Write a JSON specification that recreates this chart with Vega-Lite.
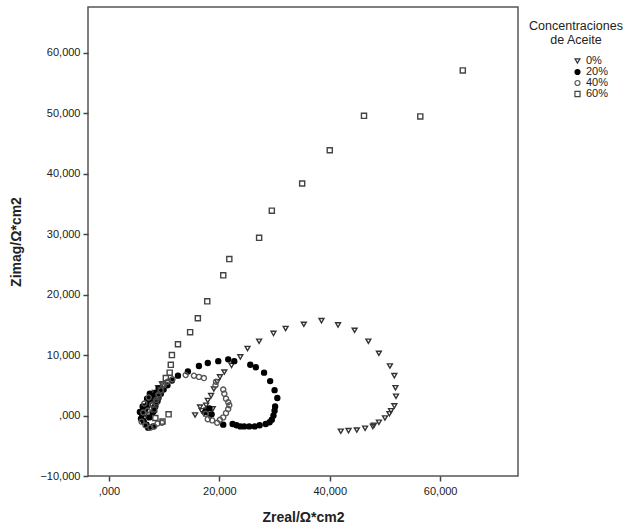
{
  "$schema": "https://vega.github.io/schema/vega-lite/v6.json",
  "autosize": {"type": "none"},
  "width": 430,
  "height": 469,
  "padding": {"left": 88, "top": 7, "right": 117, "bottom": 50},
  "background": "white",
  "config": {
    "font": "Liberation Sans",
    "view": {"stroke": "#555555", "strokeWidth": 1.5},
    "axis": {"grid": false, "domain": false, "tickColor": "#444444", "tickSize": 5, "tickWidth": 1.5, "labelFontSize": 11, "labelColor": "#222222", "titleFontSize": 14, "titleFontWeight": "bold", "titleColor": "#222222", "labelFont": "Liberation Sans", "titleFont": "Liberation Sans"}
  },
  "data": {"values": [
    {"c": "0%", "x": 15.6, "y": 0.1}, {"c": "0%", "x": 16.8, "y": 0.8}, {"c": "0%", "x": 17.6, "y": 1.7}, {"c": "0%", "x": 17.9, "y": 2.5}, {"c": "0%", "x": 18.5, "y": 3.3}, {"c": "0%", "x": 19.0, "y": 4.4}, {"c": "0%", "x": 19.6, "y": 5.6}, {"c": "0%", "x": 20.1, "y": 6.4}, {"c": "0%", "x": 20.9, "y": 7.2}, {"c": "0%", "x": 22.2, "y": 8.3}, {"c": "0%", "x": 23.8, "y": 9.7}, {"c": "0%", "x": 25.1, "y": 11.1}, {"c": "0%", "x": 27.2, "y": 12.3}, {"c": "0%", "x": 29.8, "y": 13.6}, {"c": "0%", "x": 32.0, "y": 14.4}, {"c": "0%", "x": 35.3, "y": 15.1}, {"c": "0%", "x": 38.5, "y": 15.7}, {"c": "0%", "x": 41.5, "y": 15.0}, {"c": "0%", "x": 44.5, "y": 14.1}, {"c": "0%", "x": 47.0, "y": 12.3}, {"c": "0%", "x": 48.9, "y": 10.3}, {"c": "0%", "x": 50.9, "y": 8.2}, {"c": "0%", "x": 51.7, "y": 6.6}, {"c": "0%", "x": 51.9, "y": 4.6}, {"c": "0%", "x": 52.0, "y": 3.2}, {"c": "0%", "x": 51.7, "y": 1.6}, {"c": "0%", "x": 51.1, "y": 0.8}, {"c": "0%", "x": 50.8, "y": 0.3}, {"c": "0%", "x": 50.0, "y": -0.4}, {"c": "0%", "x": 48.9, "y": -1.1}, {"c": "0%", "x": 48.0, "y": -1.6}, {"c": "0%", "x": 47.8, "y": -1.8}, {"c": "0%", "x": 46.4, "y": -2.1}, {"c": "0%", "x": 44.9, "y": -2.4}, {"c": "0%", "x": 43.4, "y": -2.5}, {"c": "0%", "x": 42.0, "y": -2.6},
    {"c": "0%", "x": 16.5, "y": 1.4}, {"c": "0%", "x": 17.2, "y": 0.3}, {"c": "0%", "x": 17.7, "y": 0.9}, {"c": "0%", "x": 18.3, "y": -0.3}, {"c": "0%", "x": 18.8, "y": 1.1}, {"c": "0%", "x": 6.2, "y": -0.8}, {"c": "0%", "x": 6.6, "y": 0.2}, {"c": "0%", "x": 7.0, "y": 1.2}, {"c": "0%", "x": 7.4, "y": 2.2}, {"c": "0%", "x": 7.8, "y": 3.0}, {"c": "0%", "x": 8.3, "y": 3.8}, {"c": "0%", "x": 8.9, "y": 4.6}, {"c": "0%", "x": 9.6, "y": 5.2},
    {"c": "20%", "x": 17.9, "y": 8.7}, {"c": "20%", "x": 16.3, "y": 8.2}, {"c": "20%", "x": 14.3, "y": 7.3}, {"c": "20%", "x": 12.5, "y": 6.6}, {"c": "20%", "x": 11.4, "y": 5.8}, {"c": "20%", "x": 10.6, "y": 5.0}, {"c": "20%", "x": 9.9, "y": 4.3}, {"c": "20%", "x": 9.4, "y": 3.6}, {"c": "20%", "x": 8.9, "y": 2.9}, {"c": "20%", "x": 8.5, "y": 2.2}, {"c": "20%", "x": 8.2, "y": 1.4}, {"c": "20%", "x": 8.1, "y": 0.7},
    {"c": "20%", "x": 19.8, "y": 9.0}, {"c": "20%", "x": 21.6, "y": 9.3}, {"c": "20%", "x": 22.7, "y": 9.0}, {"c": "20%", "x": 25.6, "y": 8.4}, {"c": "20%", "x": 26.6, "y": 8.0}, {"c": "20%", "x": 28.1, "y": 7.1}, {"c": "20%", "x": 29.2, "y": 5.7}, {"c": "20%", "x": 30.0, "y": 4.2}, {"c": "20%", "x": 30.5, "y": 2.9}, {"c": "20%", "x": 30.1, "y": 1.5}, {"c": "20%", "x": 30.0, "y": 0.8}, {"c": "20%", "x": 29.8, "y": 0.0}, {"c": "20%", "x": 29.5, "y": -0.7}, {"c": "20%", "x": 29.1, "y": -1.1}, {"c": "20%", "x": 28.4, "y": -1.4}, {"c": "20%", "x": 27.3, "y": -1.6}, {"c": "20%", "x": 26.4, "y": -1.8}, {"c": "20%", "x": 25.4, "y": -1.8}, {"c": "20%", "x": 24.5, "y": -1.8}, {"c": "20%", "x": 23.8, "y": -1.8}, {"c": "20%", "x": 23.1, "y": -1.6}, {"c": "20%", "x": 22.4, "y": -1.4}, {"c": "20%", "x": 20.7, "y": -1.5},
    {"c": "20%", "x": 17.5, "y": 0.6}, {"c": "20%", "x": 18.2, "y": 1.2}, {"c": "20%", "x": 18.6, "y": 0.2},
    {"c": "20%", "x": 5.8, "y": -0.5}, {"c": "20%", "x": 6.0, "y": 0.2}, {"c": "20%", "x": 6.3, "y": -1.0}, {"c": "20%", "x": 6.5, "y": 1.0}, {"c": "20%", "x": 6.8, "y": -1.5}, {"c": "20%", "x": 7.0, "y": 1.8}, {"c": "20%", "x": 7.3, "y": -0.3}, {"c": "20%", "x": 7.6, "y": 2.5}, {"c": "20%", "x": 7.9, "y": 0.5}, {"c": "20%", "x": 8.1, "y": 3.2}, {"c": "20%", "x": 8.4, "y": 1.5}, {"c": "20%", "x": 8.6, "y": 3.8}, {"c": "20%", "x": 9.0, "y": 4.5}, {"c": "20%", "x": 6.1, "y": 1.5}, {"c": "20%", "x": 6.9, "y": 2.8}, {"c": "20%", "x": 7.4, "y": 3.6}, {"c": "20%", "x": 5.6, "y": 0.6}, {"c": "20%", "x": 8.0, "y": -1.8}, {"c": "20%", "x": 7.1, "y": -2.0}, {"c": "20%", "x": 8.8, "y": 2.4},
    {"c": "40%", "x": 13.9, "y": 6.7}, {"c": "40%", "x": 15.4, "y": 6.6}, {"c": "40%", "x": 16.3, "y": 6.4}, {"c": "40%", "x": 17.2, "y": 6.2}, {"c": "40%", "x": 19.4, "y": 5.6}, {"c": "40%", "x": 19.3, "y": 5.0}, {"c": "40%", "x": 20.7, "y": 4.3}, {"c": "40%", "x": 20.9, "y": 3.6}, {"c": "40%", "x": 21.2, "y": 2.8}, {"c": "40%", "x": 21.6, "y": 2.2}, {"c": "40%", "x": 21.8, "y": 1.7}, {"c": "40%", "x": 21.6, "y": 1.1}, {"c": "40%", "x": 21.2, "y": 0.4}, {"c": "40%", "x": 20.7, "y": -0.3}, {"c": "40%", "x": 20.1, "y": -0.7}, {"c": "40%", "x": 19.6, "y": -1.2}, {"c": "40%", "x": 18.7, "y": -0.8}, {"c": "40%", "x": 17.9, "y": -0.6}, {"c": "40%", "x": 17.5, "y": 0.3},
    {"c": "40%", "x": 5.9, "y": -1.0}, {"c": "40%", "x": 6.2, "y": 0.5}, {"c": "40%", "x": 6.6, "y": -1.6}, {"c": "40%", "x": 7.0, "y": 0.8}, {"c": "40%", "x": 7.5, "y": -2.0}, {"c": "40%", "x": 7.8, "y": 1.8}, {"c": "40%", "x": 8.2, "y": -1.8}, {"c": "40%", "x": 8.6, "y": 2.6}, {"c": "40%", "x": 9.0, "y": 3.5}, {"c": "40%", "x": 9.4, "y": 4.2}, {"c": "40%", "x": 9.9, "y": 5.0}, {"c": "40%", "x": 10.6, "y": 5.6}, {"c": "40%", "x": 11.5, "y": 6.0}, {"c": "40%", "x": 6.4, "y": 2.0}, {"c": "40%", "x": 7.2, "y": 3.0}, {"c": "40%", "x": 8.8, "y": -1.3}, {"c": "40%", "x": 9.6, "y": -1.2},
    {"c": "60%", "x": 10.8, "y": 0.2}, {"c": "60%", "x": 9.7, "y": -1.0}, {"c": "60%", "x": 8.4, "y": -0.4}, {"c": "60%", "x": 8.2, "y": 1.0}, {"c": "60%", "x": 8.5, "y": 2.2}, {"c": "60%", "x": 9.0, "y": 3.2}, {"c": "60%", "x": 9.4, "y": 4.2}, {"c": "60%", "x": 9.8, "y": 5.2}, {"c": "60%", "x": 10.3, "y": 6.2}, {"c": "60%", "x": 11.0, "y": 7.1}, {"c": "60%", "x": 11.2, "y": 8.4}, {"c": "60%", "x": 11.4, "y": 10.0}, {"c": "60%", "x": 12.5, "y": 11.8}, {"c": "60%", "x": 14.7, "y": 13.8}, {"c": "60%", "x": 16.1, "y": 16.1}, {"c": "60%", "x": 17.8, "y": 18.9}, {"c": "60%", "x": 20.7, "y": 23.2}, {"c": "60%", "x": 21.8, "y": 25.9}, {"c": "60%", "x": 27.2, "y": 29.4}, {"c": "60%", "x": 29.5, "y": 33.9}, {"c": "60%", "x": 35.0, "y": 38.4}, {"c": "60%", "x": 40.0, "y": 43.9}, {"c": "60%", "x": 46.2, "y": 49.6}, {"c": "60%", "x": 56.4, "y": 49.5}, {"c": "60%", "x": 64.1, "y": 57.1}
  ]},
  "mark": {"type": "point", "strokeWidth": 1.4, "opacity": 1},
  "encoding": {
    "x": {"field": "x", "type": "quantitative", "title": "Zreal/Ω*cm2",
      "scale": {"domain": [-3.8, 74.1], "nice": false, "zero": false},
      "axis": {"values": [0, 20, 40, 60], "labelExpr": "datum.value == 0 ? ',000' : replace(format(datum.value, '.3f'), '.', ',')", "labelPadding": 4, "titlePadding": 14}},
    "y": {"field": "y", "type": "quantitative", "title": "Zimag/Ω*cm2",
      "scale": {"domain": [-10, 67.6], "nice": false, "zero": false},
      "axis": {"values": [-10, 0, 10, 20, 30, 40, 50, 60], "labelExpr": "datum.value == 0 ? ',000' : replace(format(datum.value, '.3f'), '.', ',')", "labelPadding": 3, "titlePadding": 16}},
    "shape": {"field": "c", "type": "nominal", "scale": {"domain": ["0%", "20%", "40%", "60%"], "range": ["triangle-down", "circle", "circle", "square"]},
      "legend": {"title": ["Concentraciones", "de Aceite"], "orient": "none", "legendX": 441, "legendY": 13, "titleFontSize": 12.5, "titleLineHeight": 14, "titleFontWeight": "normal", "titleAnchor": "middle", "titleAlign": "center", "titleColor": "#222222", "titlePadding": 9, "labelFontSize": 11, "labelColor": "#222222", "rowPadding": -1.5, "symbolOffset": 28, "labelOffset": 3, "symbolStrokeWidth": 1.2}},
    "fill": {"field": "c", "type": "nominal", "scale": {"domain": ["0%", "20%", "40%", "60%"], "range": ["transparent", "#000000", "transparent", "transparent"]}},
    "stroke": {"field": "c", "type": "nominal", "scale": {"domain": ["0%", "20%", "40%", "60%"], "range": ["#333333", "#000000", "#555555", "#444444"]}},
    "size": {"field": "c", "type": "nominal", "scale": {"domain": ["0%", "20%", "40%", "60%"], "range": [24, 26, 28, 48]}}
  }
}
